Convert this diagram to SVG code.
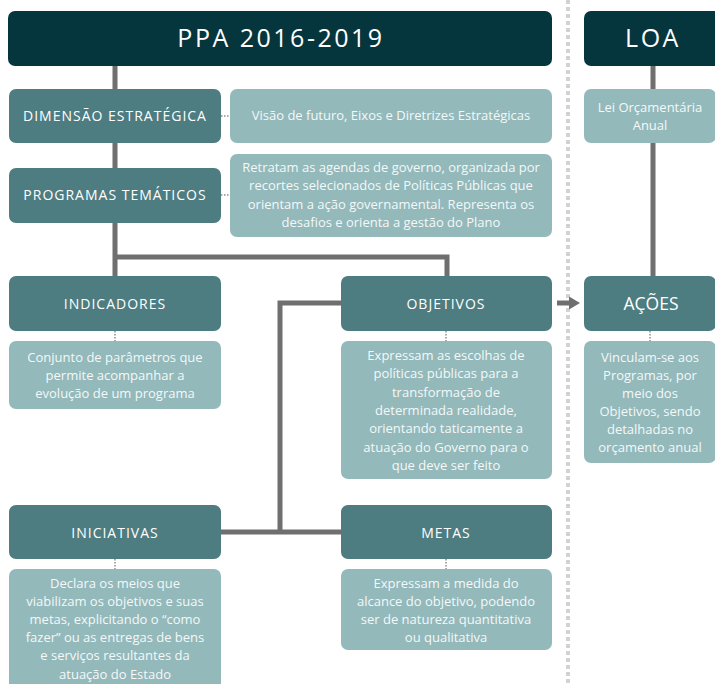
<svg xmlns="http://www.w3.org/2000/svg" width="715" height="684" viewBox="0 0 715 684">
  <defs>
    <style>
      .hdr { fill: #05363d; }
      .mid { fill: #4d7c81; }
      .lite { fill: #93b9bb; }
      .big { font-family: "Open Sans", "Liberation Sans", sans-serif; font-size: 25px; letter-spacing: 2.5px; fill: #ffffff; text-anchor: middle; }
      .lbl { font-family: "Open Sans", "Liberation Sans", sans-serif; font-size: 14px; letter-spacing: 1px; fill: #ffffff; text-anchor: middle; }
      .lbl-lg { font-family: "Open Sans", "Liberation Sans", sans-serif; font-size: 17.5px; fill: #ffffff; text-anchor: middle; }
      .desc { font-family: "Open Sans", "Liberation Sans", sans-serif; font-size: 13px; fill: #f4f8f8; text-anchor: middle; }
      .wire { fill: none; stroke: #6f6f6f; stroke-width: 5; }
      .dots { fill: none; stroke: #a9a9a9; stroke-width: 2; stroke-dasharray: 1.5 1.5; }
      .sep { fill: none; stroke: #d3d3d3; stroke-width: 4; stroke-dasharray: 4 3; }
    </style>
  </defs>

  <rect width="715" height="684" fill="#ffffff"/>

  <!-- column separator -->
  <line class="sep" x1="568" y1="0" x2="568" y2="684"/>

  <!-- connectors (drawn under the boxes) -->
  <g id="connectors">
    <polyline class="wire" points="115,66 115,277"/>
    <polyline class="wire" points="115,257 447,257 447,277"/>
    <polyline class="wire" points="341,303 280,303 280,532"/>
    <polyline class="wire" points="221,532 341,532"/>
    <polyline class="wire" points="653,66 653,277"/>
    <line x1="557" y1="303" x2="570" y2="303" stroke="#6f6f6f" stroke-width="5"/>
    <polygon points="569,296.5 580,303 569,309.5" fill="#6f6f6f"/>
    <line class="dots" x1="221" y1="116" x2="230" y2="116"/>
    <line class="dots" x1="221" y1="195" x2="230" y2="195"/>
    <line class="dots" x1="115" y1="331" x2="115" y2="341"/>
    <line class="dots" x1="446" y1="331" x2="446" y2="341"/>
    <line class="dots" x1="650" y1="331" x2="650" y2="341"/>
    <line class="dots" x1="115" y1="559" x2="115" y2="569"/>
    <line class="dots" x1="446" y1="559" x2="446" y2="569"/>
  </g>

  <g id="ppa">
    <rect class="hdr" x="8" y="11" width="544" height="55" rx="7"/>
    <text class="big" x="281" y="47">PPA 2016-2019</text>
  </g>

  <g id="loa">
    <rect class="hdr" x="584" y="11" width="140" height="55" rx="7"/>
    <text class="big" x="653" y="47">LOA</text>
  </g>

  <g id="dimensao">
    <rect class="mid" x="9" y="89" width="212" height="54" rx="7"/>
    <text class="lbl" x="115" y="121">DIMENSÃO ESTRATÉGICA</text>
  </g>
  <g id="dimensao-desc">
    <rect class="lite" x="230" y="89" width="322" height="54" rx="7"/>
    <text class="desc" x="391" y="120">Visão de futuro, Eixos e Diretrizes Estratégicas</text>
  </g>

  <g id="programas">
    <rect class="mid" x="9" y="168" width="212" height="55" rx="7"/>
    <text class="lbl" x="115" y="200">PROGRAMAS TEMÁTICOS</text>
  </g>
  <g id="programas-desc">
    <rect class="lite" x="230" y="154" width="322" height="83" rx="7"/>
    <text class="desc" x="391" y="171.5">Retratam as agendas de governo, organizada por<tspan x="391" dy="18.5">recortes selecionados de Políticas Públicas que</tspan><tspan x="391" dy="18.5">orientam a ação governamental. Representa os</tspan><tspan x="391" dy="18.5">desafios e orienta a gestão do Plano</tspan></text>
  </g>

  <g id="lei">
    <rect class="lite" x="584" y="89" width="132" height="54" rx="7"/>
    <text class="desc" x="650" y="111.5">Lei Orçamentária<tspan x="650" dy="18.5">Anual</tspan></text>
  </g>

  <g id="indicadores">
    <rect class="mid" x="9" y="276" width="212" height="55" rx="7"/>
    <text class="lbl" x="115" y="308.5">INDICADORES</text>
  </g>
  <g id="indicadores-desc">
    <rect class="lite" x="9" y="341" width="212" height="68" rx="7"/>
    <text class="desc" x="115" y="361.5">Conjunto de parâmetros que<tspan x="115" dy="18.2">permite acompanhar a</tspan><tspan x="115" dy="18.2">evolução de um programa</tspan></text>
  </g>

  <g id="objetivos">
    <rect class="mid" x="341" y="276" width="211" height="55" rx="7"/>
    <text class="lbl" x="446" y="308.5">OBJETIVOS</text>
  </g>
  <g id="objetivos-desc">
    <rect class="lite" x="341" y="341" width="211" height="138" rx="7"/>
    <text class="desc" x="446" y="360">Expressam as escolhas de<tspan x="446" dy="18.3">políticas públicas para a</tspan><tspan x="446" dy="18.3">transformação de</tspan><tspan x="446" dy="18.3">determinada realidade,</tspan><tspan x="446" dy="18.3">orientando taticamente a</tspan><tspan x="446" dy="18.3">atuação do Governo para o</tspan><tspan x="446" dy="18.3">que deve ser feito</tspan></text>
  </g>

  <g id="acoes">
    <rect class="mid" x="584" y="276" width="132" height="55" rx="7"/>
    <text class="lbl-lg" x="651" y="309.5">AÇÕES</text>
  </g>
  <g id="acoes-desc">
    <rect class="lite" x="584" y="341" width="132" height="122" rx="7"/>
    <text class="desc" x="650" y="361.5">Vinculam-se aos<tspan x="650" dy="18">Programas, por</tspan><tspan x="650" dy="18">meio dos</tspan><tspan x="650" dy="18">Objetivos, sendo</tspan><tspan x="650" dy="18">detalhadas no</tspan><tspan x="650" dy="18">orçamento anual</tspan></text>
  </g>

  <g id="iniciativas">
    <rect class="mid" x="9" y="505" width="212" height="54" rx="7"/>
    <text class="lbl" x="115" y="537.5">INICIATIVAS</text>
  </g>
  <g id="iniciativas-desc">
    <rect class="lite" x="9" y="569" width="212" height="125" rx="7"/>
    <text class="desc" x="115" y="587.5">Declara os meios que<tspan x="115" dy="18.2">viabilizam os objetivos e suas</tspan><tspan x="115" dy="18.2">metas, explicitando o “como</tspan><tspan x="115" dy="18.2">fazer” ou as entregas de bens</tspan><tspan x="115" dy="18.2">e serviços resultantes da</tspan><tspan x="115" dy="18.2">atuação do Estado</tspan></text>
  </g>

  <g id="metas">
    <rect class="mid" x="341" y="505" width="211" height="54" rx="7"/>
    <text class="lbl" x="446" y="537.5">METAS</text>
  </g>
  <g id="metas-desc">
    <rect class="lite" x="341" y="569" width="211" height="81" rx="7"/>
    <text class="desc" x="446" y="587.5">Expressam a medida do<tspan x="446" dy="18.3">alcance do objetivo, podendo</tspan><tspan x="446" dy="18.3">ser de natureza quantitativa</tspan><tspan x="446" dy="18.3">ou qualitativa</tspan></text>
  </g>
</svg>
